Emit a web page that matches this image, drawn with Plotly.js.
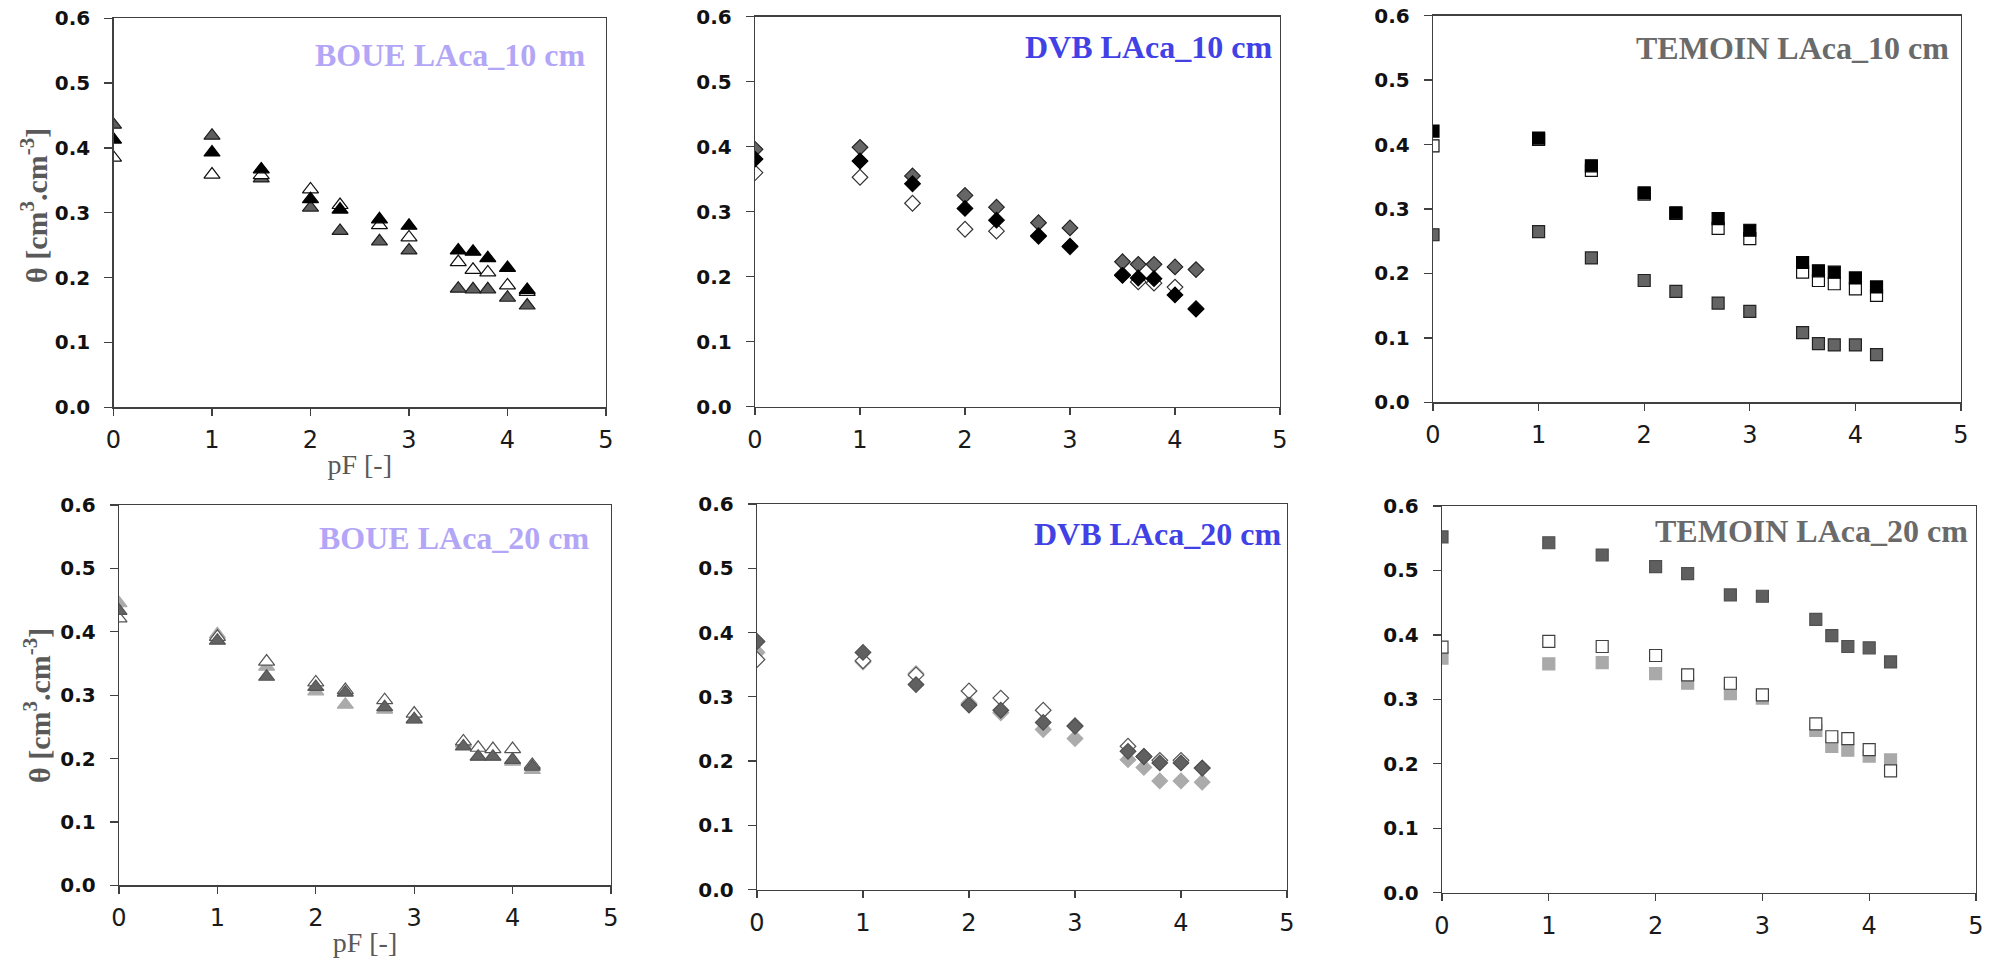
<!DOCTYPE html>
<html><head><meta charset="utf-8">
<script src="https://cdn.plot.ly/plotly-3.0.1.min.js"></script>
<style>html,body{margin:0;padding:0;background:#fff}#chart{width:1997px;height:960px}</style>
</head><body><div id="chart"></div>
<script>
// pF values (x) shared by all series
const pF = [0, 1, 1.5, 2, 2.3, 2.7, 3, 3.5, 3.65, 3.8, 4, 4.2];

// BOUE LAca_10 cm (triangles)
const boue10Grey  = [0.436, 0.419, 0.353, 0.308, 0.272, 0.256, 0.242, 0.183, 0.182, 0.182, 0.169, 0.157];
const boue10Open  = [0.385, 0.359, 0.358, 0.336, 0.312, 0.281, 0.262, 0.224, 0.212, 0.208, 0.188, 0.178];
const boue10Black = [0.413, 0.393, 0.367, 0.321, 0.305, 0.290, 0.280, 0.242, 0.240, 0.230, 0.215, 0.181];

// DVB LAca_10 cm (diamonds)
const dvb10Open  = [0.360, 0.353, 0.313, 0.273, 0.270, 0.262, 0.246, 0.203, 0.192, 0.190, 0.184, 0.151];
const dvb10Grey  = [0.396, 0.399, 0.355, 0.325, 0.307, 0.283, 0.275, 0.223, 0.219, 0.219, 0.215, 0.211];
const dvb10Black = [0.381, 0.378, 0.343, 0.305, 0.287, 0.263, 0.247, 0.202, 0.198, 0.197, 0.172, 0.150];

// TEMOIN LAca_10 cm (squares)
const tem10Open  = [0.398, 0.408, 0.360, 0.323, 0.293, 0.270, 0.254, 0.202, 0.189, 0.184, 0.176, 0.166];
const tem10Grey  = [0.260, 0.265, 0.224, 0.189, 0.172, 0.154, 0.141, 0.108, 0.091, 0.089, 0.089, 0.074];
const tem10Black = [0.421, 0.410, 0.367, 0.325, 0.294, 0.285, 0.267, 0.217, 0.204, 0.202, 0.193, 0.179];

// BOUE LAca_20 cm (triangles)
const boue20Light = [0.445, 0.396, 0.345, 0.306, 0.285, 0.277, 0.261, 0.224, 0.203, 0.203, 0.195, 0.182];
const boue20Open  = [0.421, 0.392, 0.353, 0.320, 0.308, 0.292, 0.271, 0.227, 0.217, 0.215, 0.215, 0.190];
const boue20Dark  = [0.433, 0.386, 0.329, 0.313, 0.304, 0.281, 0.262, 0.219, 0.203, 0.203, 0.198, 0.187];

// DVB LAca_20 cm (diamonds)
const dvb20Light = [0.369, 0.354, 0.336, 0.290, 0.275, 0.249, 0.235, 0.202, 0.190, 0.169, 0.169, 0.167];
const dvb20Open  = [0.358, 0.356, 0.334, 0.309, 0.298, 0.279, 0.255, 0.223, 0.207, 0.201, 0.201, 0.189];
const dvb20Dark  = [0.386, 0.369, 0.319, 0.287, 0.279, 0.260, 0.254, 0.215, 0.207, 0.197, 0.197, 0.189];

// TEMOIN LAca_20 cm (squares)
const tem20Light = [0.364, 0.355, 0.357, 0.340, 0.325, 0.309, 0.302, 0.252, 0.227, 0.221, 0.212, 0.206];
const tem20Open  = [0.381, 0.390, 0.382, 0.368, 0.338, 0.325, 0.307, 0.262, 0.242, 0.239, 0.222, 0.189];
const tem20Dark  = [0.552, 0.543, 0.524, 0.506, 0.495, 0.462, 0.460, 0.424, 0.399, 0.382, 0.380, 0.358];

const panelTitles = ['BOUE LAca_10 cm', 'DVB LAca_10 cm', 'TEMOIN LAca_10 cm',
                     'BOUE LAca_20 cm', 'DVB LAca_20 cm', 'TEMOIN LAca_20 cm'];
const yTitle = 'θ [cm<sup>3</sup>.cm<sup>-3</sup>]';
const xTitle = 'pF [-]';

const W = 1997, H = 960;
// panel pixel boxes [left, right, top, bottom]
const boxes = [
  [113.5, 606, 18.3, 407.3],
  [755, 1280, 16.7, 406.7],
  [1433, 1961, 15.7, 402.3],
  [119, 611, 505, 885.3],
  [757, 1287, 504, 889.5],
  [1442, 1976, 506, 892.7]
];
const titleColors = ['#b3a6f7', '#4141e6', '#6a6a6a', '#b3a6f7', '#4141e6', '#6a6a6a'];
const titleRight = [588, 1274, 1951, 592, 1283, 1970];
const titleMidY = [55, 47, 48, 538, 534, 531];
const yTitleX = [34, 37];
const yTitleMidY = [206, 706];

function tr(xa, ya, y, symbol, fill, line, size) {
  return {
    type: 'scatter', mode: 'markers', x: pF, y: y,
    xaxis: xa, yaxis: ya, showlegend: false, hoverinfo: 'x+y',
    marker: {symbol: symbol, size: size, color: fill, line: {color: line, width: 1.2}}
  };
}

const data = [
  tr('x', 'y', boue10Grey, 'triangle-up', '#5e5e5e', '#1e1e1e', 14),
  tr('x', 'y', boue10Open, 'triangle-up', '#ffffff', '#111111', 14),
  tr('x', 'y', boue10Black, 'triangle-up', '#000000', '#000000', 14),

  tr('x2', 'y2', dvb10Open, 'diamond', '#ffffff', '#333333', 12),
  tr('x2', 'y2', dvb10Grey, 'diamond', '#666666', '#222222', 12),
  tr('x2', 'y2', dvb10Black, 'diamond', '#000000', '#000000', 12),

  tr('x3', 'y3', tem10Open, 'square', '#ffffff', '#111111', 12),
  tr('x3', 'y3', tem10Grey, 'square', '#646464', '#222222', 12),
  tr('x3', 'y3', tem10Black, 'square', '#000000', '#000000', 12),

  tr('x4', 'y4', boue20Light, 'triangle-up', '#aaaaaa', '#aaaaaa', 14),
  tr('x4', 'y4', boue20Open, 'triangle-up', '#ffffff', '#555555', 14),
  tr('x4', 'y4', boue20Dark, 'triangle-up', '#636363', '#555555', 14),

  tr('x5', 'y5', dvb20Light, 'diamond', '#ababab', '#ababab', 12),
  tr('x5', 'y5', dvb20Open, 'diamond', '#ffffff', '#555555', 12),
  tr('x5', 'y5', dvb20Dark, 'diamond', '#606060', '#505050', 12),

  tr('x6', 'y6', tem20Light, 'square', '#a9a9a9', '#a9a9a9', 12),
  tr('x6', 'y6', tem20Open, 'square', '#ffffff', '#404040', 12),
  tr('x6', 'y6', tem20Dark, 'square', '#5f5f5f', '#505050', 12)
];

const layout = {
  width: W, height: H,
  margin: {l: 0, r: 0, t: 0, b: 0},
  paper_bgcolor: '#ffffff', plot_bgcolor: '#ffffff',
  showlegend: false,
  annotations: []
};

boxes.forEach((b, i) => {
  const n = i === 0 ? '' : String(i + 1);
  const xa = {
    domain: [b[0] / W, b[1] / W], anchor: 'y' + n,
    range: [0, 5], tick0: 0, dtick: 1,
    ticks: 'outside', ticklen: 7, tickwidth: 1.3, tickcolor: '#404040',
    showline: true, linecolor: '#404040', linewidth: 1.3, mirror: true,
    showgrid: false, zeroline: false, ticklabelstandoff: 4,
    tickfont: {family: 'DejaVu Sans', size: 24, color: '#1a1a1a'}
  };
  const ya = {
    domain: [1 - b[3] / H, 1 - b[2] / H], anchor: 'x' + n,
    range: [0, 0.6], tick0: 0, dtick: 0.1, tickformat: '.1f',
    ticks: 'outside', ticklen: 8, tickwidth: 1.3, tickcolor: '#404040',
    showline: true, linecolor: '#404040', linewidth: 1.3, mirror: true,
    showgrid: false, zeroline: false, ticklabelstandoff: 10,
    tickfont: {family: 'DejaVu Sans', size: 20, color: '#111111', weight: 'bold'}
  };
  if (i === 0 || i === 3) {
    xa.title = {text: xTitle, standoff: 1,
      font: {family: 'Liberation Serif', size: 28, color: '#595959'}};
    const k = i === 0 ? 0 : 1;
    layout.annotations.push({
      text: yTitle, xref: 'paper', yref: 'paper', textangle: -90,
      x: yTitleX[k] / W, y: 1 - yTitleMidY[k] / H,
      xanchor: 'center', yanchor: 'middle', showarrow: false,
      font: {family: 'Liberation Serif', size: 30, color: '#595959', weight: 'bold'}
    });
  }
  layout['xaxis' + n] = xa;
  layout['yaxis' + n] = ya;
  layout.annotations.push({
    text: panelTitles[i], xref: 'paper', yref: 'paper',
    x: titleRight[i] / W, y: 1 - titleMidY[i] / H,
    xanchor: 'right', yanchor: 'middle', showarrow: false,
    font: {family: 'Liberation Serif', size: 32, color: titleColors[i], weight: 'bold'}
  });
});

Plotly.newPlot('chart', data, layout, {displayModeBar: false, staticPlot: true});
</script>
</body></html>
